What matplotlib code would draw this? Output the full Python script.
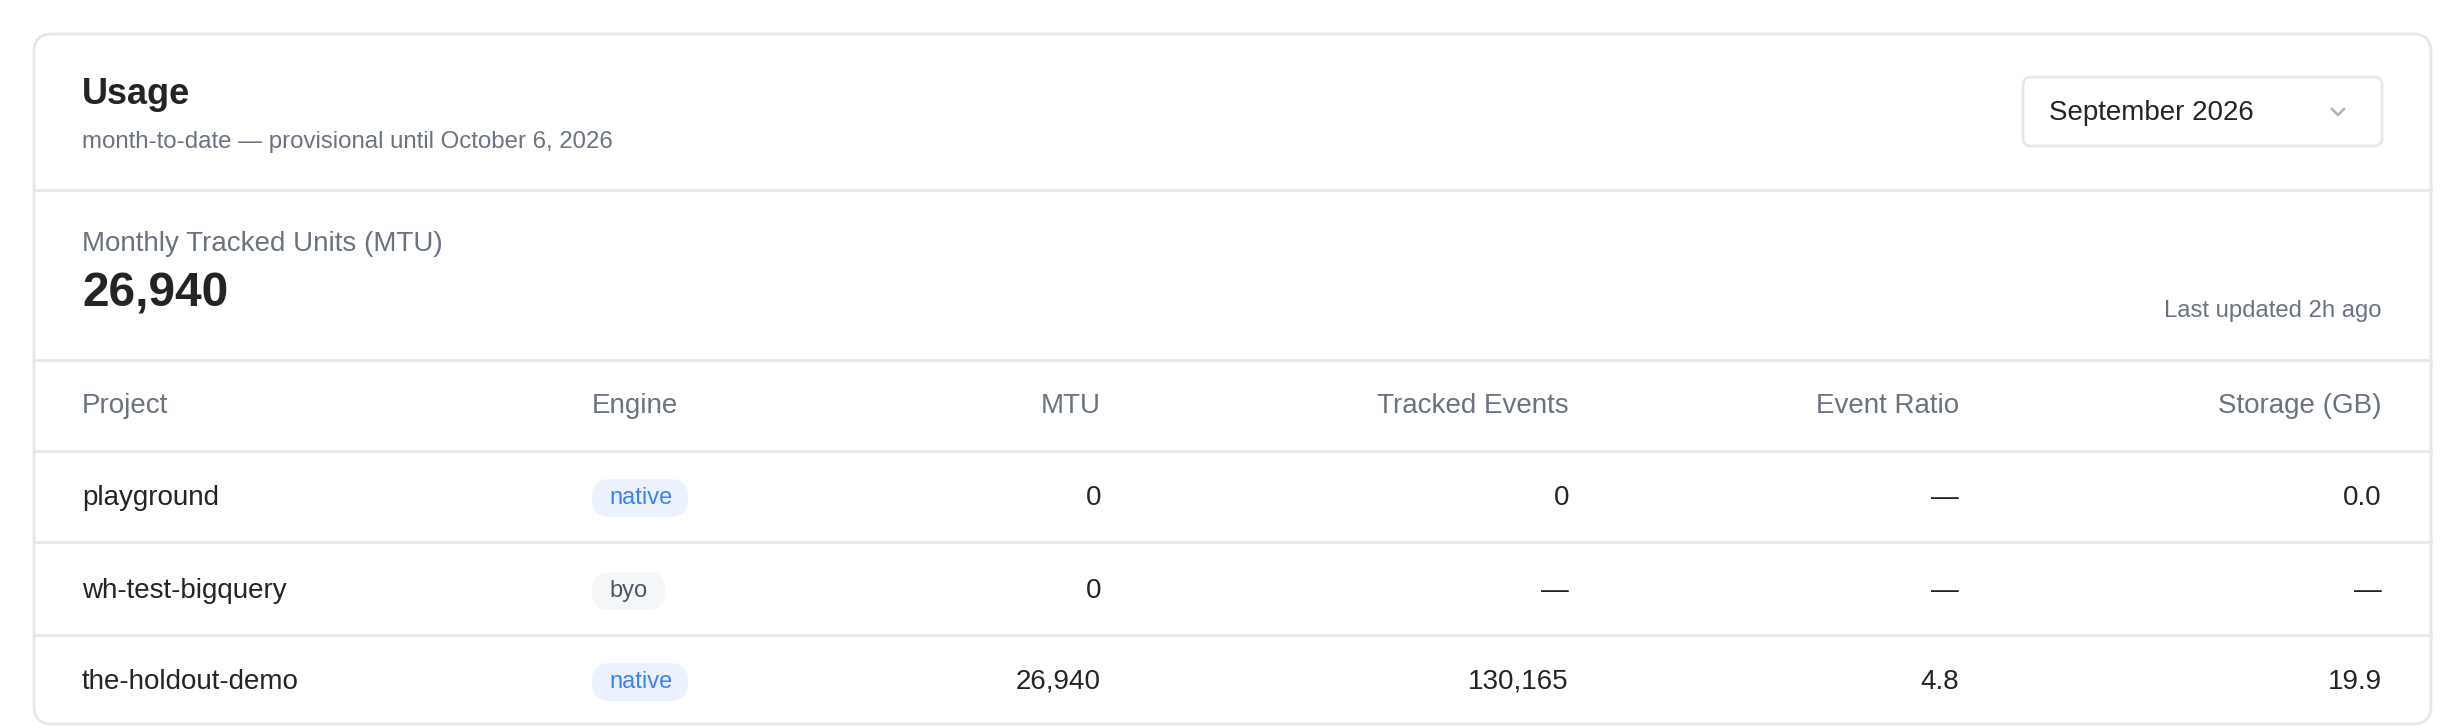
import matplotlib
matplotlib.use("Agg")
import matplotlib.pyplot as plt
from matplotlib.patches import FancyBboxPatch

plt.rcParams["font.family"] = ["Liberation Sans", "DejaVu Sans"]

# data
columns = ["Project", "Engine", "MTU", "Tracked Events", "Event Ratio", "Storage (GB)"]
projects = ["playground", "wh-test-bigquery", "the-holdout-demo"]
engines = ["native", "byo", "native"]
mtu = ["0", "0", "26,940"]
tracked_events = ["0", "—", "130,165"]
event_ratio = ["—", "—", "4.8"]
storage = ["0.0", "—", "19.9"]
total_mtu = "26,940"

DARK = "#242424"
GRAY = "#6B7280"
LINE = "#E5E7EB"

fig = plt.figure(figsize=(24.64, 7.28), dpi=100)
ax = fig.add_axes([0, 0, 1, 1])
ax.set_xlim(0, 2464)
ax.set_ylim(728, 0)
ax.axis("off")

# card
ax.add_patch(FancyBboxPatch((34, 34), 2397, 690, boxstyle="round,pad=0,rounding_size=18",
                            fc="white", ec=LINE, lw=2))
for y in [190, 360, 451, 542, 635]:
    ax.plot([34, 2431], [y, y], color=LINE, lw=2)

# header
ax.text(82, 94, "Usage", fontsize=26, fontweight="bold", color=DARK, va="center")
ax.text(82, 142, "month-to-date — provisional until October 6, 2026", fontsize=17.3,
        color=GRAY, va="center")

# dropdown
ax.add_patch(FancyBboxPatch((2023, 77), 359, 69, boxstyle="round,pad=0,rounding_size=8",
                            fc="white", ec=LINE, lw=2))
ax.text(2049, 113, "September 2026", fontsize=20, color=DARK, va="center")
ax.plot([2332, 2338, 2344], [109, 115, 109], color="#B0B5BD", lw=1.8)

# total
ax.text(82, 244, "Monthly Tracked Units (MTU)", fontsize=20, color=GRAY, va="center")
ax.text(82, 294, total_mtu, fontsize=34.5, fontweight="bold", color=DARK, va="center")
ax.text(2382, 311, "Last updated 2h ago", fontsize=17.2, color=GRAY, va="center", ha="right")

# table
col_x = [82, 592, 1101, 1569, 1959, 2382]
col_ha = ["left", "left", "right", "right", "right", "right"]
for x, ha, name in zip(col_x, col_ha, columns):
    ax.text(x, 406, name, fontsize=20, color=GRAY, va="center", ha=ha)

row_y = [498, 591, 682]
pill_w = {"native": 96, "byo": 73}
pill_style = {"native": ("#EBF2FE", "#3B82F6"), "byo": ("#F5F6F8", "#4B5563")}
for i, y in enumerate(row_y):
    ax.text(82, y, projects[i], fontsize=20, color=DARK, va="center")
    bg, fg = pill_style[engines[i]]
    ax.add_patch(FancyBboxPatch((592, y - 19), pill_w[engines[i]], 38,
                                boxstyle="round,pad=0,rounding_size=18", fc=bg, ec="none"))
    ax.text(609, y, engines[i], fontsize=17, color=fg, va="center")
    for x, val in zip(col_x[2:], [mtu[i], tracked_events[i], event_ratio[i], storage[i]]):
        ax.text(x, y, val, fontsize=20, color=DARK, va="center", ha="right")

fig.savefig("out.png", dpi=100, facecolor="white")
